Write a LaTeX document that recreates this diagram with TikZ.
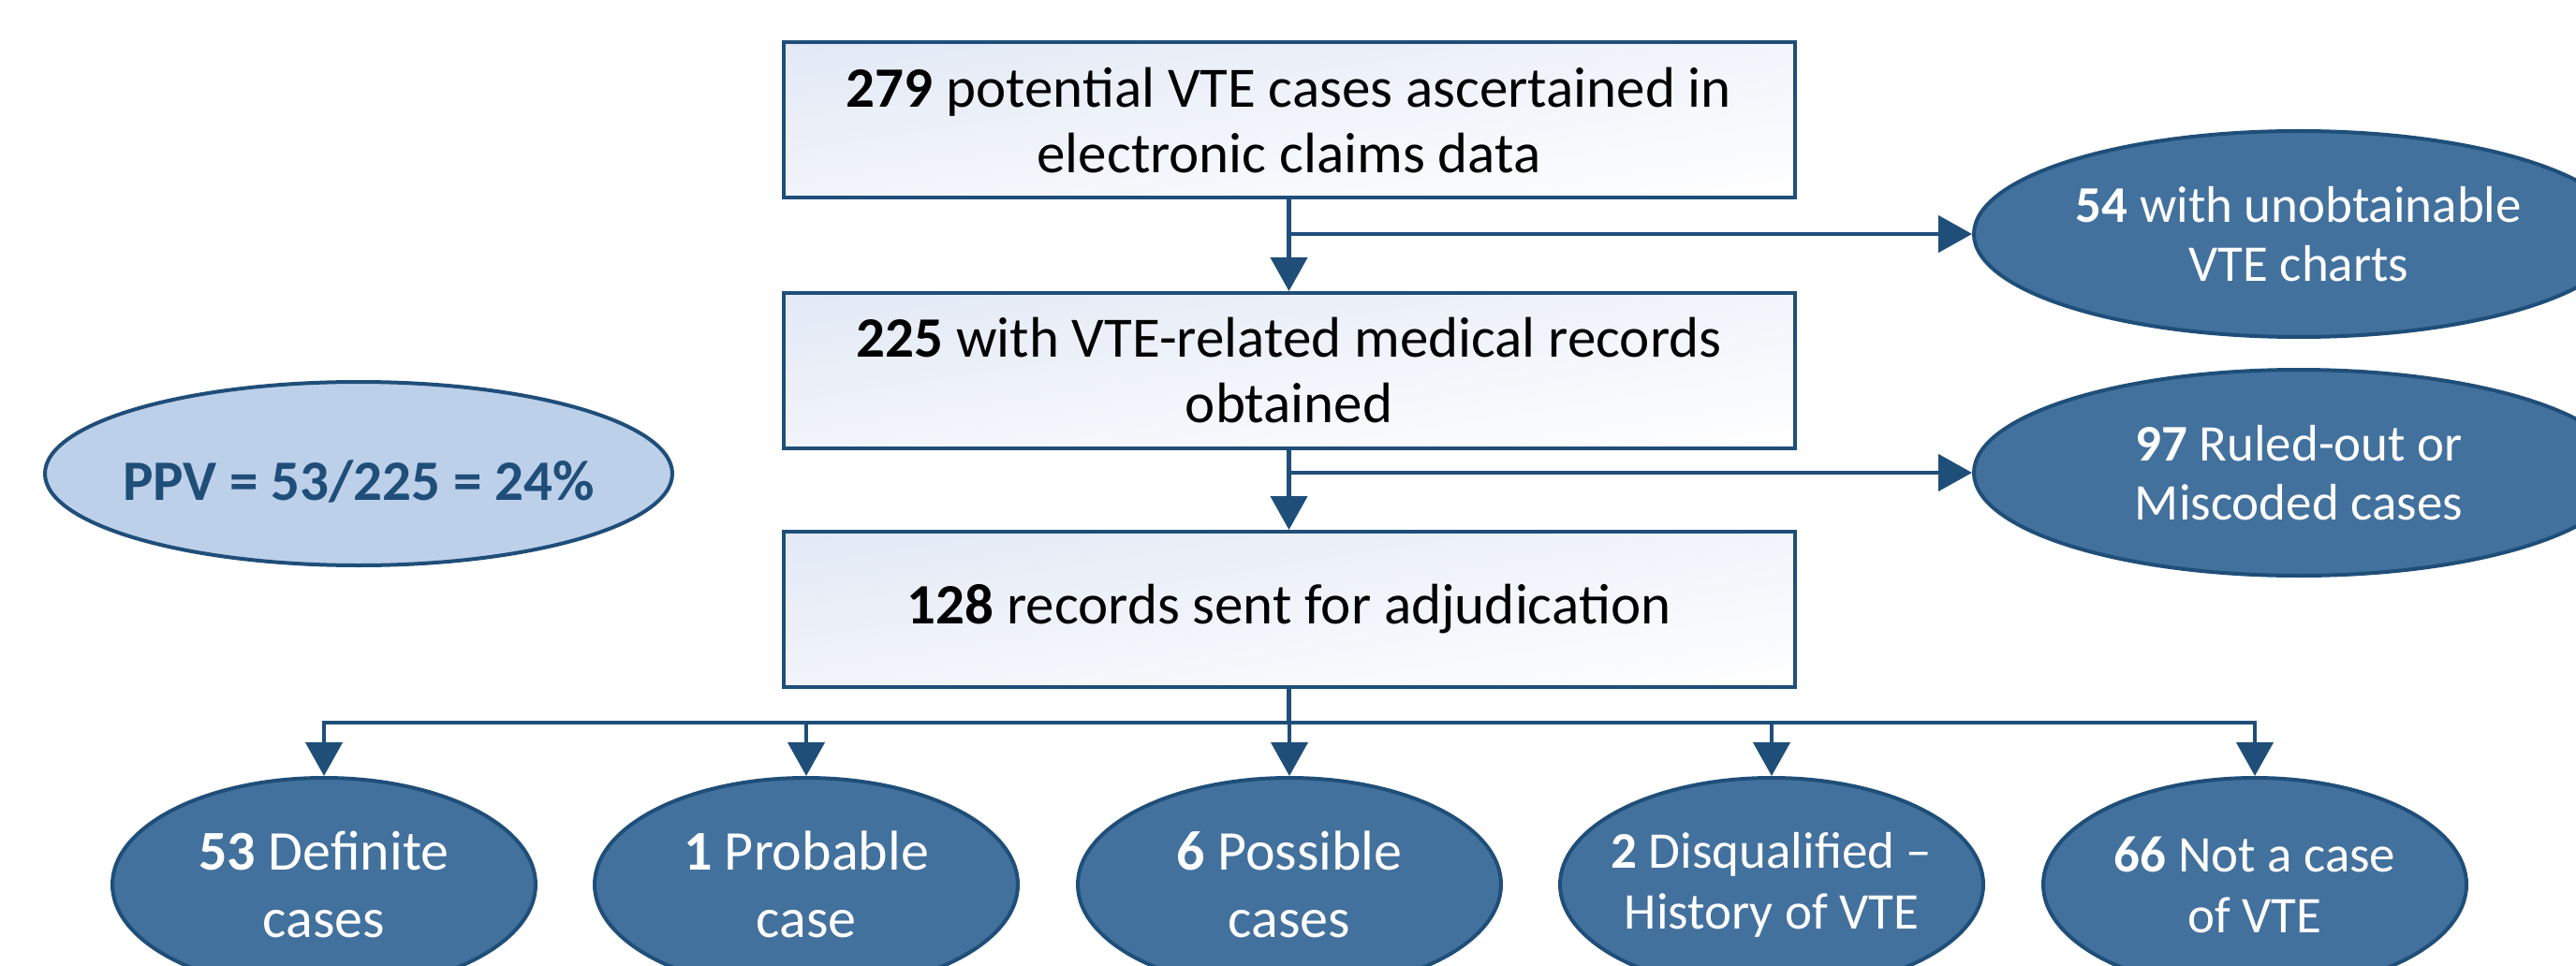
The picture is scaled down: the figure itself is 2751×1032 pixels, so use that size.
\documentclass[tikz,border=0pt]{standalone}
\usepackage{fontspec}
\setmainfont{Carlito}
\usetikzlibrary{shapes.geometric,arrows.meta,shadings}
\definecolor{linec}{RGB}{31,78,121}
\definecolor{ellfill}{RGB}{67,113,157}
\definecolor{ppvfill}{RGB}{189,208,233}
\definecolor{boxA}{RGB}{226,233,245}
\definecolor{boxB}{RGB}{241,244,250}
\begin{document}
\begin{tikzpicture}[x=1pt,y=-1pt,
  box/.style={draw=linec, line width=4pt, minimum width=1080pt, minimum height=166pt,
    inner sep=0pt, upper left=boxA, upper right=boxB, lower left=boxB, lower right=white,
    text=black, align=center, font=\fontsize{61}{70}\selectfont},
  ell/.style={ellipse, draw=linec, line width=4pt, fill=ellfill, inner sep=0pt},
  sidee/.style={ell, minimum width=694pt, minimum height=220pt, text=white, align=center,
    font=\fontsize{55}{63}\selectfont},
  bote/.style={ell, minimum width=452pt, minimum height=228pt},
  btxtA/.style={text=white, align=center, inner sep=0pt, font=\fontsize{60}{72}\selectfont},
  btxtB/.style={text=white, align=center, inner sep=0pt, font=\fontsize{55}{65}\selectfont},
  ppvs/.style={ellipse, draw=linec, line width=4pt, fill=ppvfill, inner sep=0pt,
    minimum width=670pt, minimum height=196pt},
  ppvt/.style={text=linec, inner sep=0pt, font=\fontsize{61}{70}\selectfont\bfseries},
  conn/.style={draw=linec, line width=4.5pt},
  arr/.style={conn, -{Triangle[length=36pt,width=39pt]}}
]
\useasboundingbox (0,0) rectangle (2751,1032);
\clip (0,0) rectangle (2751,1032);

\node[box] (b1) at (1376.5,128.5) {\textbf{279} potential VTE cases ascertained in\\electronic claims data};
\node[box] (b2) at (1376.5,396) {\textbf{225} with VTE-related medical records\\obtained};
\node[box] (b3) at (1376.5,651) {\textbf{128} records sent for adjudication};

\node[sidee] (e54) at (2455,250) {\textbf{54} with unobtainable\\VTE charts};
\node[sidee] (e97) at (2455,505) {\textbf{97} Ruled-out or\\Miscoded cases};

\node[ppvs] (ppv) at (383,506) {};
\node[ppvt, anchor=base] (ppvtext) at (383,534) {PPV = 53/225 = 24\%};

\node[bote] (c1) at (346,945) {};
\node[bote] (c2) at (861,945) {};
\node[bote] (c3) at (1377,945) {};
\node[bote] (c4) at (1892,945) {};
\node[bote] (c5) at (2408,945) {};
\node[btxtA] (t1) at (c1) {\textbf{53} Definite\\cases};
\node[btxtA] (t2) at (c2) {\textbf{1} Probable\\case};
\node[btxtA] (t3) at (c3) {\textbf{6} Possible\\cases};
\node[btxtB] (t4) at (c4) {\textbf{2} Disqualified --\\History of VTE};
\node[btxtB] (t5) at (c5) {\textbf{66} Not a case\\of VTE};

\draw[arr] (b1) -- (b2);
\draw[arr] (b1.south |- e54.west) -- (e54.west);
\draw[arr] (b2) -- (b3);
\draw[arr] (b2.south |- e97.west) -- (e97.west);
\coordinate (bus) at (1376.5,772);
\draw[conn] (b3.south) -- (bus);
\foreach \n in {c1,c2,c3,c4,c5} \draw[arr] (bus) -| (\n.north);
\end{tikzpicture}
\end{document}
